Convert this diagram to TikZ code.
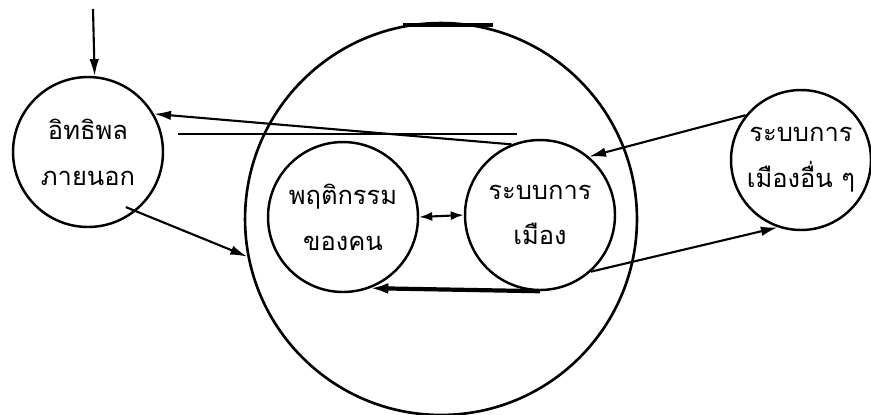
\documentclass[tikz,border=0pt]{standalone}
\usepackage{fontspec}
\usepackage{tikz}
\usetikzlibrary{arrows.meta,calc}
\newfontfamily\thaifont[Script=Thai]{Loma}
\tikzset{
  ring/.style={draw,circle,line width=1.4pt,inner sep=0pt,minimum size=30mm,
    align=center,font=\thaifont\fontsize{14.5}{26}\selectfont},
  bigring/.style={draw,circle,line width=1.5pt,inner sep=0pt,minimum size=78.4mm},
  flow/.style={-{Latex[length=3.4mm,width=1.9mm]},line width=1.2pt},
  flowb/.style={flow,line width=2.4pt,-{Latex[length=3.6mm,width=2.2mm]}},
  twoway/.style={{Latex[length=2.6mm,width=1.8mm]}-{Latex[length=2.6mm,width=1.8mm]},line width=1.2pt},
  rule/.style={line width=1.4pt},
}

\begin{document}
\begin{tikzpicture}[x=0.02cm,y=-0.02cm]
  \useasboundingbox (0,0) rectangle (871,414);
  % the society and what acts on it
  \node[bigring](outer) at (441,219){};
  \node[ring](infl) at (88,152){อิทธิพล\\ภายนอก};
  \node[ring](behav) at (343,217){พฤติกรรม\\ของคน};
  \node[ring](polsys) at (540,215){ระบบการ\\เมือง};
  \node[ring,minimum size=28mm](other) at (801,160){ระบบการ\\เมืองอื่น ๆ};
  \coordinate (src) at (93,9);
  \coordinate (ruleL) at (178,134);
  \coordinate (ruleR) at (517,134);
  \coordinate (barL) at (403,25);
  \coordinate (barR) at (493,25);
  \draw[line width=2.6pt](barL)--(barR);
  \draw[flow](src)--(infl.85);
  \draw[flow](polsys.112)--(infl.30);
  \draw[rule](ruleL)--(ruleR);
  \draw[flow,shorten <=-2.2mm](infl.-51)--(outer.191);
  \draw[twoway](behav.east)--(polsys.west);
  \draw[flowb](polsys.south)--(behav.-69);
  \draw[flow](polsys.-48)--(other.251);
  \draw[flow](other.141)--(polsys.50);
\end{tikzpicture}
\end{document}
